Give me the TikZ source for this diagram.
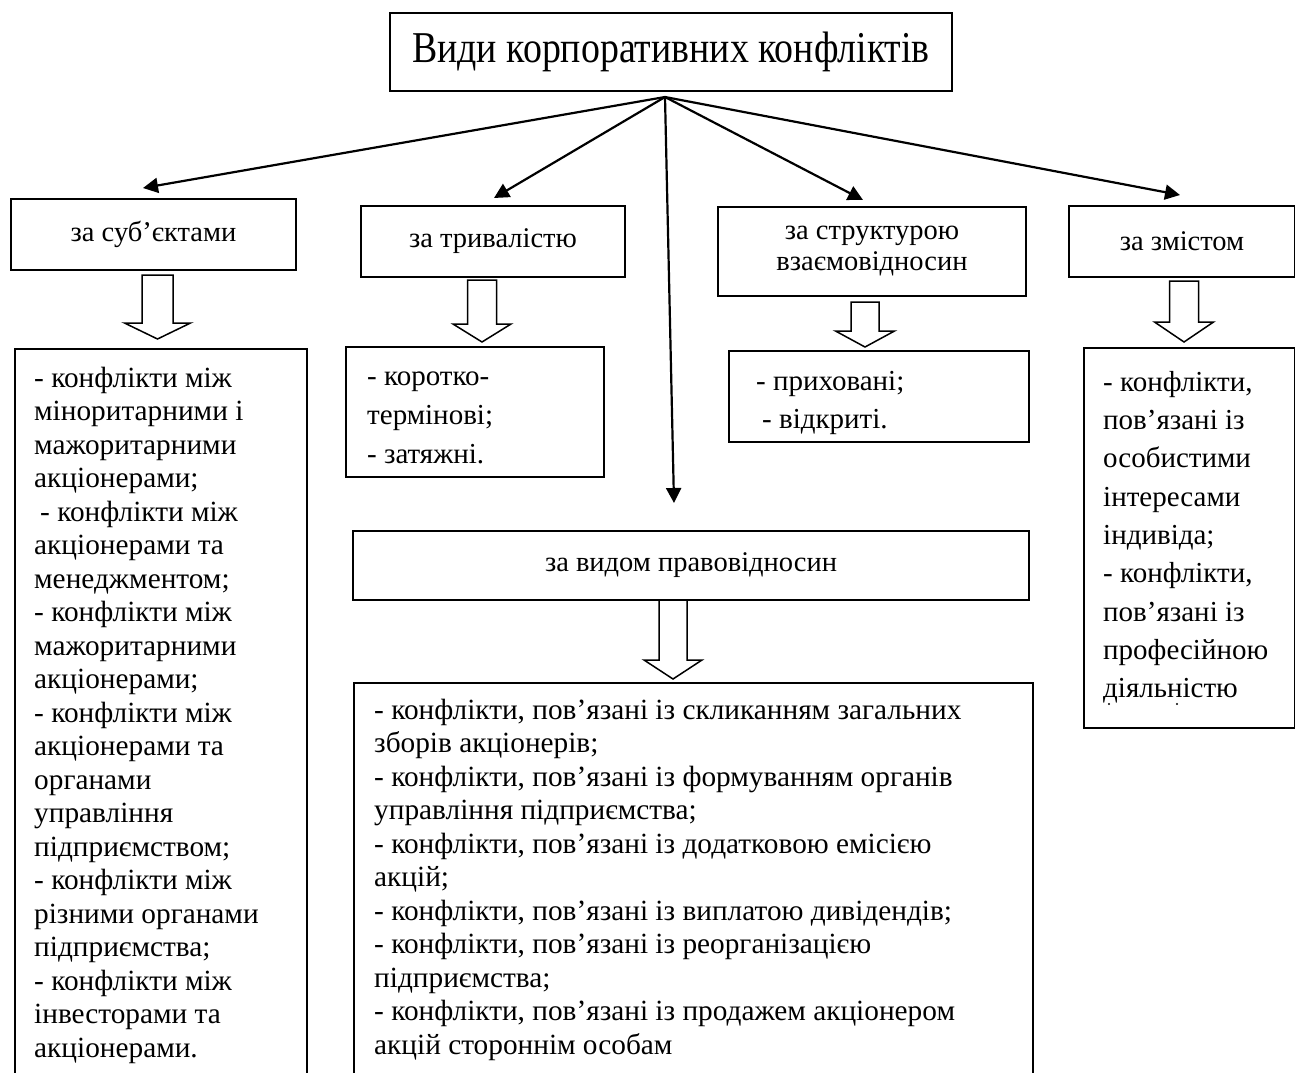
\documentclass[tikz,border=0pt]{standalone}
\usepackage{fontspec}
\setmainfont{Liberation Serif}
\usetikzlibrary{arrows.meta}
\newcommand\hollowdown[6]{%
  \draw[hollow] ({#1-#2},#4) -- ({#1+#2},#4) -- ({#1+#2},#5) -- ({#1+#3},#5)
    -- (#1,#6) -- ({#1-#3},#5) -- ({#1-#2},#5) -- cycle;}
\begin{document}
\begin{tikzpicture}[x=1pt,y=-1pt,
  box/.style={draw, line width=1.7pt, inner sep=0pt},
  hdr/.style={box, font=\fontsize{28.5}{31}\selectfont, align=center},
  txt/.style={anchor=north west, inner sep=0pt, align=left},
  conn/.style={line width=2.2pt, -{Triangle[length=15pt,width=15pt]}},
  hollow/.style={draw, line width=1.5pt, fill=white}]
\useasboundingbox (0,0) rectangle (1295,1072);
\fill[white] (0,0) rectangle (1295,1072);

% title
\node[box, minimum width=562, minimum height=78] (title) at (671,52)
  {\fontsize{44}{48}\selectfont\scalebox{0.86}[1]{Види корпоративних конфліктів}};

% header boxes
\node[hdr, minimum width=285, minimum height=71] (subj) at (153.5,234.5) {за суб’єктами};
\node[hdr, minimum width=264, minimum height=71] (dur) at (493,241.5) {за тривалістю};
\node[hdr, minimum width=308, minimum height=89] (strc) at (872,251.5) {за структурою\\взаємовідносин};
\node[hdr, minimum width=226, minimum height=71] (zm) at (1182,241.5) {за змістом};
\node[hdr, minimum width=676, minimum height=69] (legal) at (691,565.5) {за видом правовідносин};

% connectors
\coordinate (org) at (665,97);
\coordinate (tsubj) at (143,188);
\coordinate (tdur) at (494,198);
\coordinate (tstrc) at (863,200);
\coordinate (tzm) at (1180,195);
\coordinate (tlegal) at (674,503);
\draw[conn] (org) -- (tsubj);
\draw[conn] (org) -- (tdur);
\draw[conn] (org) -- (tstrc);
\draw[conn] (org) -- (tzm);
\draw[conn] (org) -- (tlegal);

% content boxes
\node[box, anchor=north west, minimum width=292, minimum height=740] (csubj) at (14,348) {};
\node[box, anchor=north west, minimum width=258, minimum height=130] (cdur) at (345,346) {};
\node[box, anchor=north west, minimum width=300, minimum height=91] (cstrc) at (728,350) {};
\node[box, anchor=north west, minimum width=211, minimum height=380] (czm) at (1083,347) {};
\node[box, anchor=north west, minimum width=679, minimum height=410] (clegal) at (353,682) {};

% hollow arrows
\hollowdown{157.5}{15.5}{33}{275}{323}{339}
\hollowdown{482}{14.5}{29}{280}{324}{342}
\hollowdown{865}{14}{29.5}{302}{331}{347}
\hollowdown{1184}{14.5}{29.5}{281}{322}{342}
\hollowdown{673}{14}{29}{600}{660}{679}

% texts
\node[txt, font=\fontsize{29.3}{33.5}\selectfont] (tcsubj) at (34,{387-23.45}) {\strut- конфлікти між\\
міноритарними і\\
мажоритарними\\
акціонерами;\\
\hspace*{6pt}- конфлікти між\\
акціонерами та\\
менеджментом;\\
- конфлікти між\\
мажоритарними\\
акціонерами;\\
- конфлікти між\\
акціонерами та\\
органами\\
управління\\
підприємством;\\
- конфлікти між\\
різними органами\\
підприємства;\\
- конфлікти між\\
інвесторами та\\
акціонерами.};

\node[txt, font=\fontsize{29}{39}\selectfont] (tcdur) at (367,{385-27.3}) {\strut- коротко-\\
термінові;\\
- затяжні.};

\node[txt, font=\fontsize{29}{38}\selectfont] (tcstrc) at (756,{390-26.6}) {\strut- приховані;\\
\hspace*{6pt}- відкриті.};

\node[txt, font=\fontsize{29}{38.3}\selectfont] (tczm) at (1103,{391-26.81}) {\strut- конфлікти,\\
пов’язані із\\
особистими\\
інтересами\\
індивіда;\\
- конфлікти,\\
пов’язані із\\
професійною\\
діяльністю};
\fill (1109,704) circle (1.2pt);
\fill (1177,704) circle (1.2pt);

\node[txt, font=\fontsize{29.3}{33.5}\selectfont] (tclegal) at (374,{719-23.45}) {\strut- конфлікти, пов’язані із скликанням загальних\\
зборів акціонерів;\\
- конфлікти, пов’язані із формуванням органів\\
управління підприємства;\\
- конфлікти, пов’язані із додатковою емісією\\
акцій;\\
- конфлікти, пов’язані із виплатою дивідендів;\\
- конфлікти, пов’язані із реорганізацією\\
підприємства;\\
- конфлікти, пов’язані із продажем акціонером\\
акцій стороннім особам};
\end{tikzpicture}
\end{document}
